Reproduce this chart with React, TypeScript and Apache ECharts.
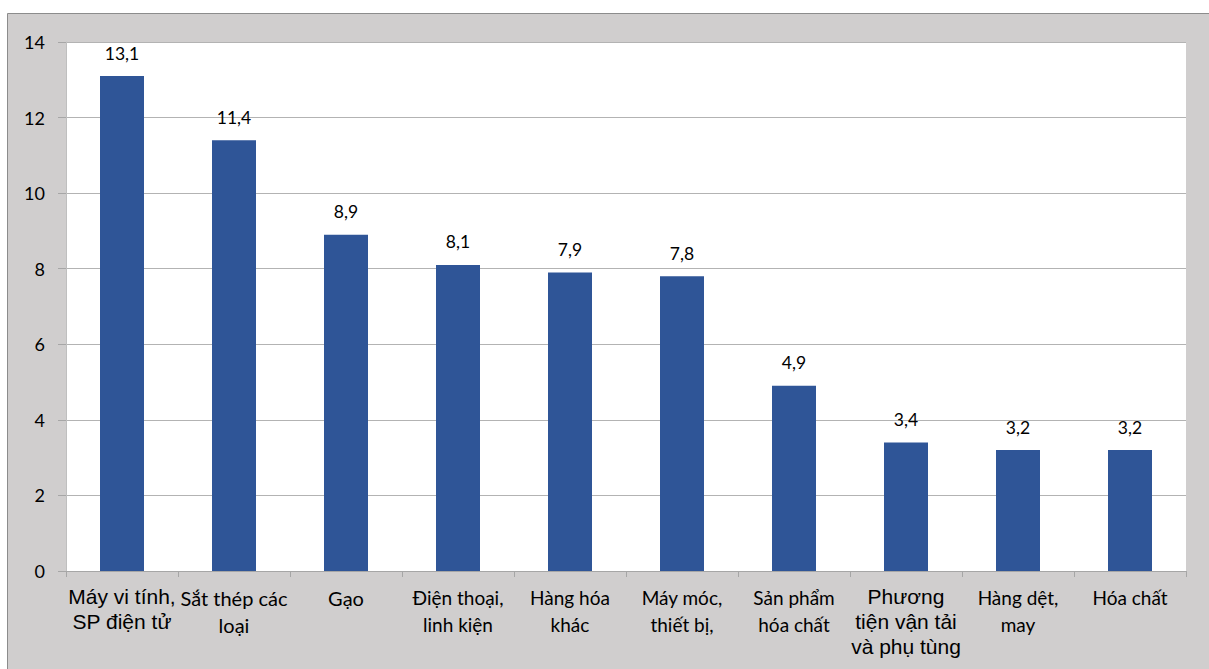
import React, { useEffect, useRef } from "react";
import * as echarts from "echarts";

// Export values by product group
const categories: string[] = [
  "Máy vi tính,\nSP điện tử",
  "Sắt thép các\nloại",
  "Gạo",
  "Điện thoại,\nlinh kiện",
  "Hàng hóa\nkhác",
  "Máy móc,\nthiết bị,",
  "Sản phẩm\nhóa chất",
  "Phương\ntiện vận tải\nvà phụ tùng",
  "Hàng dệt,\nmay",
  "Hóa chất",
];
const values: number[] = [13.1, 11.4, 8.9, 8.1, 7.9, 7.8, 4.9, 3.4, 3.2, 3.2];
// Text style used for each category label
const labelStyles: string[] = ["arial", "big", "big", "cal", "cal", "cal", "cal", "arial", "cal", "cal"];

const yMin = 0;
const yMax = 14;
const yStep = 2;

export default function App() {
  const ref = useRef<HTMLDivElement>(null);

  useEffect(() => {
    if (!ref.current) return;
    const chart = echarts.init(ref.current, undefined, { renderer: "svg" });
    chart.setOption({
      animation: false,
      backgroundColor: "#ffffff",
      graphic: [
        {
          type: "rect",
          z: -10,
          silent: true,
          shape: { x: 7.5, y: 13.5, width: 1220, height: 680 },
          style: { fill: "#d0cece", stroke: "#8c8c8c", lineWidth: 1 },
        },
      ],
      grid: {
        left: 66,
        top: 42,
        right: 23,
        bottom: 98,
        show: true,
        backgroundColor: "#ffffff",
        borderWidth: 0,
      },
      xAxis: {
        type: "category",
        data: categories,
        boundaryGap: true,
        axisLine: { show: true, lineStyle: { color: "#a6a6a6", width: 1 } },
        axisTick: { show: true, length: 6, lineStyle: { color: "#a6a6a6" } },
        axisLabel: {
          interval: 0,
          margin: 13,
          color: "#000000",
          formatter: (val: string, idx: number) => {
            const s = labelStyles[idx];
            return val
              .split("\n")
              .map((line) => `{${s}|${line}}`)
              .join("\n");
          },
          rich: {
            arial: { fontFamily: "Liberation Sans", fontSize: 21, lineHeight: 25, color: "#000" },
            big: { fontFamily: "Lato", fontSize: 20, lineHeight: 27, color: "#000" },
            cal: { fontFamily: "Lato", fontSize: 19, lineHeight: 27, color: "#000" },
          },
        },
      },
      yAxis: {
        type: "value",
        min: yMin,
        max: yMax,
        interval: yStep,
        axisLine: { show: true, lineStyle: { color: "#bfbfbf", width: 1 } },
        axisTick: { show: true, length: 8, lineStyle: { color: "#a6a6a6" } },
        axisLabel: {
          margin: 21,
          color: "#000000",
          fontFamily: "Lato",
          fontSize: 18,
        },
        splitLine: { show: true, lineStyle: { color: "#b3b3b3", width: 1 } },
      },
      series: [
        {
          type: "bar",
          data: values,
          barWidth: 44,
          itemStyle: { color: "#2f5597" },
          label: {
            show: true,
            position: "top",
            distance: 14,
            color: "#000000",
            fontFamily: "Lato",
            fontSize: 17.5,
            formatter: (p: any) => Number(p.value).toFixed(1).replace(".", ","),
          },
        },
      ],
    });
    return () => chart.dispose();
  }, []);

  return (
    <div
      ref={ref}
      style={{ position: "fixed", left: 0, top: 0, width: 1209, height: 669 }}
    />
  );
}
